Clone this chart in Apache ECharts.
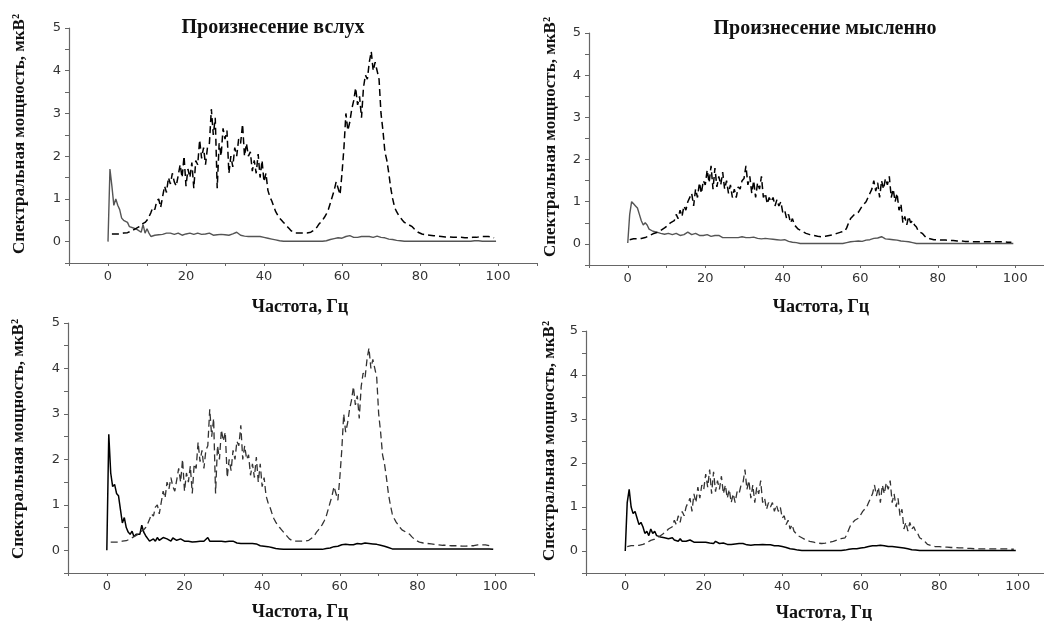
<!DOCTYPE html>
<html>
<head>
    <meta charset="utf-8">
    <title>Спектральная мощность</title>
    <script src="https://cdn.jsdelivr.net/npm/echarts@6/dist/echarts.min.js"></script>
</head>
<body style="margin:0">
    <div id="main" style="width:1044px; height:621px"></div>
    <script type="text/javascript">
        // frequency grid, Hz (0.5 Hz step)
        var freq = [];
        for (var i = 0; i <= 200; i++) freq.push(i / 2);

        // dashed curves (same in top and bottom rows)
        var dashAloud = [
            null, null, 0.18, 0.18, 0.18, 0.19, 0.18, 0.19, 0.2, 0.2, 0.21, 0.22, 0.25, 0.27, 0.3, 0.32, 0.35, 0.4, 0.38, 0.45,
            0.5, 0.58, 0.68, 0.8, 0.75, 0.95, 1.0, 0.8, 1.05, 1.3, 1.15, 1.5, 1.35, 1.6, 1.4, 1.3, 1.55, 1.8, 1.5, 2.0,
            1.3, 1.7, 1.5, 1.85, 1.25, 1.9, 1.8, 2.38, 1.95, 2.2, 1.8, 2.2, 2.3, 3.1, 2.5, 2.9, 1.25, 2.3, 2.0, 2.65,
            2.4, 2.6, 1.6, 2.0, 1.75, 2.2, 2.0, 2.4, 2.3, 2.75, 2.0, 2.3, 2.0, 2.1, 1.65, 1.9, 1.6, 2.05, 1.5, 1.9,
            1.4, 1.6, 1.2, 1.05, 0.95, 0.82, 0.7, 0.62, 0.55, 0.5, 0.45, 0.4, 0.35, 0.3, 0.25, 0.22, 0.2, 0.2, 0.2, 0.2,
            0.2, 0.2, 0.2, 0.21, 0.22, 0.25, 0.28, 0.33, 0.4, 0.45, 0.5, 0.57, 0.65, 0.75, 0.9, 1.05, 1.2, 1.4, 1.25, 1.1,
            1.6, 2.2, 3.0, 2.6, 2.8, 3.1, 3.3, 3.6, 3.2, 3.4, 2.9, 3.6, 3.9, 3.8, 4.2, 4.45, 4.0, 4.2, 4.0, 3.8,
            3.0, 2.6, 2.1, 1.9, 1.6, 1.25, 1.0, 0.8, 0.7, 0.62, 0.58, 0.5, 0.45, 0.42, 0.4, 0.37, 0.35, 0.3, 0.27, 0.22,
            0.2, 0.18, 0.17, 0.16, 0.15, 0.15, 0.14, 0.14, 0.13, 0.13, 0.12, 0.12, 0.12, 0.11, 0.11, 0.11, 0.1, 0.1, 0.1, 0.1,
            0.1, 0.1, 0.1, 0.09, 0.09, 0.09, 0.1, 0.1, 0.1, 0.1, 0.11, 0.12, 0.13, 0.12, 0.1, 0.12, 0.13, 0.1, 0.09, null,
            null
        ];
        var dashSilent = [
            null, 0.1, 0.12, 0.12, 0.12, 0.12, 0.13, 0.13, 0.14, 0.15, 0.17, 0.19, 0.22, 0.24, 0.25, 0.27, 0.3, 0.32, 0.35, 0.38,
            0.42, 0.45, 0.5, 0.47, 0.55, 0.7, 0.6, 0.8, 0.65, 0.9, 0.8, 1.0, 1.0, 1.2, 0.9, 1.3, 1.1, 1.45, 1.2, 1.5,
            1.4, 1.75, 1.45, 1.85, 1.3, 1.8, 1.35, 1.6, 1.4, 1.7, 1.3, 1.5, 1.2, 1.4, 1.1, 1.3, 1.1, 1.35, 1.3, 1.5,
            1.55, 1.85, 1.4, 1.6, 1.2, 1.5, 1.1, 1.45, 1.3, 1.6, 1.1, 1.2, 0.95, 1.1, 1.0, 1.1, 0.9, 1.05, 0.9, 1.0,
            0.75, 0.8, 0.6, 0.7, 0.5, 0.6, 0.45, 0.42, 0.35, 0.32, 0.3, 0.27, 0.25, 0.23, 0.22, 0.21, 0.2, 0.19, 0.18, 0.17,
            0.17, 0.17, 0.18, 0.19, 0.2, 0.21, 0.22, 0.23, 0.25, 0.27, 0.28, 0.29, 0.3, 0.38, 0.5, 0.6, 0.65, 0.7, 0.68, 0.75,
            0.75, 0.9, 0.9, 1.0, 1.1, 1.2, 1.3, 1.5, 1.25, 1.45, 1.1, 1.5, 1.3, 1.55, 1.4, 1.6, 1.1, 1.3, 1.0, 1.2,
            0.8, 0.95, 0.5, 0.65, 0.45, 0.65, 0.5, 0.55, 0.45, 0.4, 0.3, 0.28, 0.25, 0.2, 0.15, 0.13, 0.12, 0.11, 0.1, 0.1,
            0.1, 0.1, 0.09, 0.09, 0.09, 0.08, 0.08, 0.08, 0.08, 0.07, 0.07, 0.07, 0.07, 0.06, 0.06, 0.06, 0.06, 0.06, 0.05, 0.05,
            0.05, 0.05, 0.05, 0.05, 0.05, 0.05, 0.05, 0.05, 0.05, 0.05, 0.05, 0.05, 0.05, 0.05, 0.05, 0.05, 0.04, 0.04, 0.04, null,
            null
        ];

        // solid curves
        var solidAloudTop = [
            0, 1.7, 1.3, 0.85, 1.0, 0.85, 0.75, 0.55, 0.5, 0.5, 0.45, 0.35, 0.35, 0.32, 0.3, 0.28, 0.25, 0.22, 0.4, 0.2,
            0.3, 0.2, 0.12, 0.13, 0.15, 0.17, 0.16, 0.18, 0.17, 0.2, 0.2, 0.22, 0.2, 0.19, 0.17, 0.16, 0.2, 0.18, 0.15, 0.19,
            0.18, 0.17, 0.2, 0.18, 0.17, 0.19, 0.2, 0.18, 0.17, 0.15, 0.18, 0.16, 0.2, 0.17, 0.15, 0.14, 0.16, 0.15, 0.17, 0.15,
            0.16, 0.18, 0.15, 0.17, 0.18, 0.16, 0.22, 0.18, 0.15, 0.14, 0.13, 0.14, 0.12, 0.13, 0.12, 0.13, 0.12, 0.11, 0.12, 0.1,
            0.1, 0.09, 0.08, 0.07, 0.06, 0.05, 0.04, 0.03, 0.02, 0.02, 0.01, 0.01, 0.01, 0.01, 0.01, 0.01, 0.01, 0.01, 0.01, 0.01,
            0.01, 0.01, 0.01, 0.01, 0.01, 0.01, 0.01, 0.01, 0.01, 0.01, 0.01, 0.01, 0.02, 0.03, 0.05, 0.06, 0.07, 0.08, 0.09, 0.1,
            0.08, 0.1, 0.12, 0.1, 0.14, 0.12, 0.1, 0.13, 0.1, 0.11, 0.12, 0.13, 0.12, 0.1, 0.12, 0.13, 0.1, 0.12, 0.13, 0.1,
            0.1, 0.08, 0.09, 0.07, 0.06, 0.05, 0.05, 0.04, 0.03, 0.02, 0.02, 0.01, 0.01, 0.01, 0.01, 0.01, 0.01, 0.01, 0.01, 0.01,
            0.01, 0.01, 0.01, 0.01, 0.01, 0.01, 0.01, 0.01, 0.01, 0.01, 0.01, 0.01, 0.01, 0.01, 0.01, 0.01, 0.01, 0.01, 0.01, 0.01,
            0.01, 0.01, 0.01, 0.01, 0.01, 0.01, 0.01, 0.01, 0.02, 0.01, 0.02, 0.01, 0.01, 0.01, 0.01, 0.01, 0.01, 0.01, 0.01, 0.01,
            null
        ];
        var solidSilentTop = [
            0.02, 0.7, 1.0, 0.95, 0.9, 0.85, 0.7, 0.55, 0.45, 0.5, 0.45, 0.35, 0.32, 0.3, 0.3, 0.28, 0.28, 0.25, 0.25, 0.23,
            0.22, 0.25, 0.25, 0.22, 0.22, 0.25, 0.25, 0.2, 0.2, 0.22, 0.25, 0.28, 0.28, 0.22, 0.22, 0.25, 0.25, 0.2, 0.2, 0.2,
            0.2, 0.22, 0.2, 0.18, 0.2, 0.2, 0.22, 0.2, 0.18, 0.15, 0.13, 0.15, 0.16, 0.15, 0.17, 0.15, 0.16, 0.15, 0.14, 0.17,
            0.16, 0.15, 0.17, 0.15, 0.14, 0.16, 0.15, 0.13, 0.15, 0.12, 0.14, 0.13, 0.15, 0.12, 0.13, 0.11, 0.12, 0.1, 0.1, 0.09,
            0.1, 0.1, 0.08, 0.06, 0.05, 0.04, 0.04, 0.03, 0.02, 0.01, 0.01, 0.01, 0.01, 0.01, 0.01, 0.01, 0.01, 0.01, 0.01, 0.01,
            0.01, 0.01, 0.01, 0.01, 0.01, 0.01, 0.01, 0.01, 0.01, 0.01, 0.01, 0.01, 0.02, 0.03, 0.04, 0.05, 0.05, 0.06, 0.05, 0.07,
            0.07, 0.06, 0.08, 0.09, 0.08, 0.1, 0.12, 0.13, 0.12, 0.14, 0.15, 0.17, 0.13, 0.12, 0.1, 0.11, 0.09, 0.1, 0.08, 0.09,
            0.08, 0.07, 0.07, 0.06, 0.05, 0.05, 0.04, 0.03, 0.02, 0.01, 0.01, 0.01, 0.01, 0.01, 0.01, 0.01, 0.01, 0.01, 0.01, 0.01,
            0.01, 0.01, 0.01, 0.01, 0.01, 0.01, 0.01, 0.01, 0.01, 0.01, 0.01, 0.01, 0.01, 0.01, 0.01, 0.01, 0.01, 0.01, 0.01, 0.01,
            0.01, 0.01, 0.01, 0.01, 0.01, 0.01, 0.01, 0.01, 0.01, 0.01, 0.01, 0.01, 0.01, 0.01, 0.01, 0.01, 0.01, 0.01, 0.01, 0.01,
            null
        ];
        var solidAloudBottom = [
            0, 2.55, 1.7, 1.4, 1.45, 1.25, 1.2, 0.9, 0.6, 0.72, 0.5, 0.4, 0.35, 0.42, 0.3, 0.35, 0.38, 0.35, 0.55, 0.4,
            0.32, 0.3, 0.2, 0.22, 0.25, 0.2, 0.28, 0.22, 0.25, 0.28, 0.3, 0.25, 0.22, 0.2, 0.27, 0.25, 0.22, 0.2, 0.25, 0.22,
            0.2, 0.18, 0.2, 0.22, 0.18, 0.2, 0.19, 0.21, 0.2, 0.18, 0.2, 0.19, 0.28, 0.2, 0.18, 0.2, 0.19, 0.2, 0.18, 0.2,
            0.2, 0.19, 0.18, 0.2, 0.19, 0.2, 0.2, 0.16, 0.17, 0.15, 0.14, 0.15, 0.13, 0.15, 0.14, 0.15, 0.17, 0.14, 0.13, 0.1,
            0.1, 0.09, 0.08, 0.08, 0.07, 0.06, 0.05, 0.04, 0.03, 0.03, 0.02, 0.02, 0.02, 0.02, 0.02, 0.02, 0.02, 0.02, 0.02, 0.02,
            0.02, 0.02, 0.02, 0.02, 0.02, 0.02, 0.02, 0.02, 0.02, 0.02, 0.02, 0.02, 0.03, 0.04, 0.06, 0.05, 0.07, 0.08, 0.1, 0.09,
            0.1, 0.12, 0.1, 0.13, 0.15, 0.12, 0.14, 0.12, 0.13, 0.15, 0.13, 0.14, 0.15, 0.16, 0.14, 0.15, 0.13, 0.14, 0.12, 0.13,
            0.1, 0.11, 0.08, 0.09, 0.07, 0.06, 0.04, 0.03, 0.03, 0.03, 0.03, 0.03, 0.03, 0.03, 0.03, 0.03, 0.03, 0.03, 0.03, 0.03,
            0.03, 0.03, 0.03, 0.03, 0.03, 0.03, 0.03, 0.03, 0.03, 0.03, 0.03, 0.03, 0.03, 0.03, 0.03, 0.03, 0.03, 0.03, 0.03, 0.03,
            0.03, 0.03, 0.03, 0.03, 0.03, 0.03, 0.03, 0.03, 0.03, 0.03, 0.03, 0.03, 0.02, 0.03, 0.02, 0.03, 0.02, 0.03, 0.02, 0.02,
            null
        ];
        var solidSilentBottom = [
            0, 1.1, 1.4, 1.0, 0.85, 0.9, 0.75, 0.6, 0.65, 0.55, 0.4, 0.45, 0.35, 0.5, 0.4, 0.45, 0.35, 0.38, 0.32, 0.3,
            0.3, 0.28, 0.28, 0.3, 0.3, 0.25, 0.25, 0.22, 0.28, 0.22, 0.25, 0.22, 0.2, 0.25, 0.22, 0.2, 0.23, 0.2, 0.22, 0.2,
            0.22, 0.2, 0.2, 0.18, 0.2, 0.17, 0.22, 0.18, 0.17, 0.15, 0.18, 0.16, 0.15, 0.17, 0.15, 0.18, 0.16, 0.15, 0.17, 0.15,
            0.17, 0.15, 0.14, 0.15, 0.13, 0.15, 0.14, 0.16, 0.14, 0.13, 0.15, 0.13, 0.14, 0.12, 0.14, 0.13, 0.12, 0.13, 0.12, 0.1,
            0.1, 0.09, 0.08, 0.06, 0.05, 0.04, 0.04, 0.03, 0.02, 0.02, 0.01, 0.01, 0.01, 0.01, 0.01, 0.01, 0.01, 0.01, 0.01, 0.01,
            0.01, 0.01, 0.01, 0.01, 0.01, 0.01, 0.01, 0.01, 0.01, 0.01, 0.01, 0.01, 0.02, 0.03, 0.04, 0.05, 0.05, 0.06, 0.05, 0.07,
            0.07, 0.06, 0.08, 0.09, 0.1, 0.1, 0.12, 0.14, 0.12, 0.15, 0.13, 0.16, 0.12, 0.11, 0.1, 0.12, 0.1, 0.11, 0.09, 0.1,
            0.08, 0.08, 0.07, 0.06, 0.05, 0.04, 0.03, 0.03, 0.02, 0.02, 0.01, 0.01, 0.01, 0.01, 0.01, 0.01, 0.01, 0.01, 0.01, 0.01,
            0.01, 0.01, 0.01, 0.01, 0.01, 0.01, 0.01, 0.01, 0.01, 0.01, 0.01, 0.01, 0.01, 0.01, 0.01, 0.01, 0.01, 0.01, 0.01, 0.01,
            0.01, 0.01, 0.01, 0.01, 0.01, 0.01, 0.01, 0.01, 0.01, 0.01, 0.01, 0.01, 0.01, 0.01, 0.01, 0.01, 0.01, 0.01, 0.01, 0.01,
            null
        ];

        var titles = ['Произнесение вслух', 'Произнесение мысленно'];
        var yName = 'Спектральная мощность, мкВ²';
        var xName = 'Частота, Гц';

        function pairs(values) {
            var out = [];
            for (var i = 0; i < freq.length; i++) {
                if (values[i] !== null) out.push([freq[i], values[i]]);
            }
            return out;
        }

        var serif = '"Liberation Serif", "Times New Roman", serif';
        var grids = [
            { left: 69, top: 28, width: 468, height: 235 },
            { left: 589, top: 33, width: 465, height: 232 },
            { left: 68, top: 323, width: 466, height: 250 },
            { left: 586, top: 331, width: 471, height: 242 }
        ];

        var xAxes = [], yAxes = [];
        grids.forEach(function (g, k) {
            g.containLabel = false;
            g.outerBoundsMode = 'none';
            xAxes.push({
                type: 'value', gridIndex: k, min: -10, max: 110, interval: 10,
                axisLine: { onZero: false, lineStyle: { color: '#666', width: 1.2 } },
                axisTick: { inside: false, length: 3, lineStyle: { color: '#666' } },
                splitLine: { show: false },
                axisLabel: {
                    margin: 7, color: '#333', fontSize: 13, fontFamily: '"DejaVu Sans", sans-serif',
                    showMinLabel: true, showMaxLabel: true,
                    formatter: function (v) {
                        return (v >= 0 && v <= 100 && v % 20 === 0) ? String(v) : '';
                    }
                }
            });
            yAxes.push({
                type: 'value', gridIndex: k, min: -0.5, max: 5, interval: 0.5,
                axisLine: { show: true, onZero: false, lineStyle: { color: '#666', width: 1.2 } },
                axisTick: { show: true, inside: false, length: 4, lineStyle: { color: '#666' } },
                splitLine: { show: false },
                axisLabel: {
                    margin: 8, color: '#333', fontSize: 13, fontFamily: '"DejaVu Sans", sans-serif',
                    formatter: function (v) {
                        return (Math.abs(v - Math.round(v)) < 1e-6 && v >= 0) ? String(Math.round(v)) : '';
                    }
                }
            });
        });

        function line(k, values, color, width, dashed) {
            return {
                type: 'line', xAxisIndex: k, yAxisIndex: k,
                data: pairs(values), symbol: 'none', showSymbol: false,
                lineStyle: { color: color, width: width, type: dashed ? [7, 4] : 'solid' },
                animation: false, z: dashed ? 3 : 2
            };
        }

        function txt(s, x, y, size, rot) {
            return {
                type: 'text', x: x, y: y, rotation: rot || 0,
                style: { text: s, fill: '#111', font: 'bold ' + size + 'px ' + serif, align: 'center', verticalAlign: 'middle' }
            };
        }

        var option = {
            backgroundColor: '#fff',
            animation: false,
            grid: grids,
            xAxis: xAxes,
            yAxis: yAxes,
            graphic: [
                txt(titles[0], 273, 28, 20),
                txt(titles[1], 825, 29, 20),
                txt(yName, 20, 134, 17, Math.PI / 2),
                txt(yName, 551, 137, 17, Math.PI / 2),
                txt(yName, 19, 439, 17, Math.PI / 2),
                txt(yName, 550, 441, 17, Math.PI / 2),
                txt(xName, 300, 307, 18),
                txt(xName, 821, 307, 18),
                txt(xName, 300, 612, 18),
                txt(xName, 824, 613, 18)
            ],
            series: [
                line(0, solidAloudTop, '#555', 1.4, false),
                line(0, dashAloud, '#000', 1.5, true),
                line(1, solidSilentTop, '#555', 1.4, false),
                line(1, dashSilent, '#000', 1.5, true),
                line(2, solidAloudBottom, '#000', 1.5, false),
                line(2, dashAloud, '#333', 1.3, true),
                line(3, solidSilentBottom, '#000', 1.5, false),
                line(3, dashSilent, '#333', 1.3, true)
            ]
        };

        var myChart = echarts.init(document.getElementById('main'));
        myChart.setOption(option);
    </script>
</body>
</html>
